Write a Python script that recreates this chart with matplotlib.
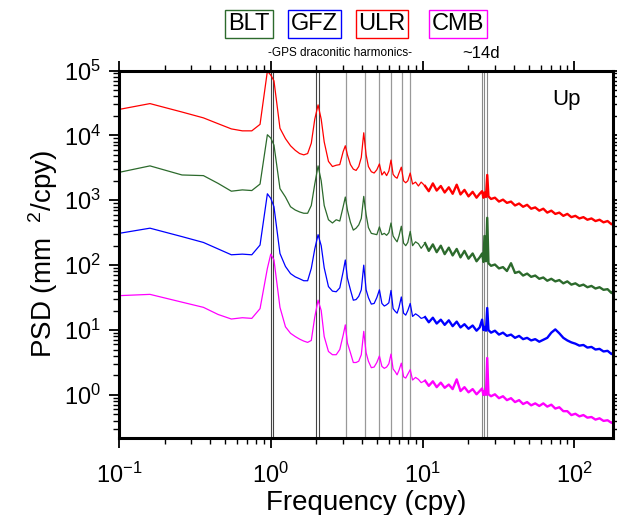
import numpy as np
import matplotlib
matplotlib.use("Agg")
import matplotlib.pyplot as plt

plt.rcParams['font.family'] = ['Liberation Sans', 'DejaVu Sans']
plt.rcParams['mathtext.default'] = 'regular'
plt.rcParams['axes.unicode_minus'] = False

# frequency grid (cpy)
freq = [0.1, 0.16, 0.26, 0.36, 0.45, 0.55, 0.65, 0.75, 0.85, 0.95,
        1.0, 1.05, 1.15, 1.25, 1.35, 1.45, 1.55, 1.65, 1.75, 1.85,
        1.95, 2.05, 2.15, 2.25, 2.4, 2.55, 2.7, 2.85, 3.0, 3.1,
        3.2, 3.35, 3.5, 3.65, 3.8, 3.95, 4.1, 4.25, 4.4, 4.6,
        4.8, 5.0, 5.2, 5.4, 5.6, 5.8, 6.0, 6.2, 6.4, 6.6,
        6.8, 7.0, 7.25, 7.5, 7.75, 8.0, 8.3, 8.6, 9.0, 9.4,
        9.8,
        10.4, 11.0, 11.7, 12.4, 13.2, 14.0, 14.9, 15.8, 16.8, 17.8,
        18.9, 20.1, 21.4, 22.7, 23.8, 24.7, 25.2, 25.6, 26.2, 26.7,
        27.2, 28.3, 30.0, 31.9, 33.9, 36.0, 38.3, 40.7, 43.3, 46.0,
        48.9, 52.0, 55.3, 58.8, 62.5, 66.4, 70.6, 75.0, 79.7, 84.7,
        90.0, 95.7, 101.7, 108.1, 114.9, 122.1, 129.8, 138.0, 146.7, 155.9,
        165.7, 176.0, 180.0]

# log10 of PSD (mm^2/cpy)
ulr_log = [4.40, 4.49, 4.36, 4.27, 4.18, 4.10, 4.07, 4.07, 4.17, 4.99,
           4.93, 4.84, 4.11, 3.95, 3.84, 3.77, 3.72, 3.70, 3.72, 3.88,
           4.25, 4.47, 4.25, 3.90, 3.60, 3.52, 3.54, 3.55, 3.75, 3.84,
           3.70, 3.55, 3.48, 3.46, 3.52, 3.66, 4.04, 3.70, 3.52, 3.44,
           3.42, 3.47, 3.56, 3.39, 3.44, 3.38, 3.45, 3.62, 3.40, 3.36,
           3.34, 3.42, 3.51, 3.30, 3.27, 3.30, 3.42, 3.25, 3.28, 3.22,
           3.28,
           3.22, 3.14, 3.26, 3.15, 3.22, 3.12, 3.20, 3.10, 3.24, 3.09,
           3.16, 3.06, 3.13, 3.04, 3.10, 3.14, 3.04, 3.12, 3.05, 3.39,
           3.06, 3.02, 3.04, 2.98, 3.01, 2.96, 2.98, 2.92, 2.95, 2.90,
           2.93, 2.87, 2.89, 2.84, 2.87, 2.81, 2.84, 2.79, 2.81, 2.76,
           2.79, 2.74, 2.76, 2.72, 2.74, 2.70, 2.72, 2.68, 2.70, 2.66,
           2.68, 2.63, 2.65]

blt_log = [3.43, 3.53, 3.39, 3.38, 3.26, 3.14, 3.16, 3.15, 3.25, 4.01,
           3.96, 3.85, 3.18, 3.05, 2.90, 2.85, 2.82, 2.80, 2.80, 2.92,
           3.25, 3.53, 3.30, 2.92, 2.70, 2.65, 2.70, 2.68, 2.90, 3.05,
           2.85, 2.66, 2.54, 2.57, 2.62, 2.72, 3.06, 2.78, 2.58, 2.49,
           2.48, 2.47, 2.59, 2.47, 2.49, 2.46, 2.50, 2.65, 2.45, 2.40,
           2.36, 2.45, 2.60, 2.34, 2.30, 2.35, 2.52, 2.30, 2.36, 2.33,
           2.26,
           2.34, 2.22, 2.32, 2.20, 2.30, 2.17, 2.27, 2.15, 2.25, 2.12,
           2.22, 2.10, 2.18, 2.06, 2.12, 2.18, 2.05, 2.45, 2.06, 2.73,
           2.03, 1.99, 2.01, 1.95, 1.97, 1.91, 2.03, 1.88, 1.90, 1.84,
           1.87, 1.82, 1.84, 1.79, 1.81, 1.76, 1.79, 1.75, 1.77, 1.72,
           1.75, 1.70, 1.72, 1.68, 1.70, 1.66, 1.68, 1.64, 1.66, 1.62,
           1.63, 1.57, 1.60]

gfz_log = [2.49, 2.57, 2.44, 2.35, 2.25, 2.16, 2.17, 2.16, 2.31, 3.10,
           3.03, 2.90, 2.18, 1.98, 1.87, 1.82, 1.79, 1.76, 1.76, 1.95,
           2.25, 2.47, 2.30, 1.96, 1.67, 1.60, 1.59, 1.65, 1.90, 2.08,
           1.80, 1.62, 1.46, 1.47, 1.52, 1.62, 2.00, 1.62, 1.50, 1.40,
           1.41, 1.50, 1.62, 1.41, 1.37, 1.39, 1.42, 1.61, 1.33, 1.29,
           1.26, 1.35, 1.51, 1.26, 1.23, 1.30, 1.41, 1.21, 1.25, 1.22,
           1.18,
           1.20, 1.12, 1.19, 1.10, 1.16, 1.08, 1.15, 1.06, 1.13, 1.04,
           1.09, 1.02, 1.07, 0.99, 1.04, 1.16, 1.00, 1.05, 0.99, 1.34,
           1.00, 0.96, 0.99, 0.93, 0.96, 0.91, 0.93, 0.88, 0.91, 0.86,
           0.88, 0.84, 0.86, 0.82, 0.85, 0.88, 0.96, 1.01, 0.95, 0.88,
           0.84, 0.81, 0.79, 0.76, 0.77, 0.73, 0.74, 0.70, 0.71, 0.67,
           0.68, 0.63, 0.65]

cmb_log = [1.53, 1.55, 1.43, 1.35, 1.24, 1.17, 1.19, 1.18, 1.33, 1.95,
           2.17, 2.08, 1.35, 1.05, 0.95, 0.90, 0.86, 0.83, 0.81, 0.84,
           1.20, 1.46, 1.30, 0.90, 0.67, 0.62, 0.62, 0.70, 0.92, 1.08,
           0.80, 0.65, 0.50, 0.50, 0.52, 0.62, 0.98, 0.65, 0.52, 0.42,
           0.43, 0.50, 0.60, 0.44, 0.41, 0.43, 0.48, 0.63, 0.40, 0.36,
           0.31, 0.38, 0.49, 0.28, 0.26, 0.32, 0.39, 0.23, 0.27, 0.24,
           0.19,
           0.22, 0.14, 0.21, 0.12, 0.19, 0.11, 0.16, 0.09, 0.24, 0.06,
           0.12, 0.04, 0.09, 0.01, 0.06, 0.10, 0.00, 0.06, 0.00, 0.57,
           0.01, -0.02, 0.01, -0.05, -0.02, -0.08, -0.05, -0.11, -0.08, -0.14,
           -0.11, -0.16, -0.13, -0.17, -0.13, -0.18, -0.15, -0.21, -0.19, -0.25,
           -0.25, -0.31, -0.29, -0.33, -0.31, -0.35, -0.34, -0.38, -0.36, -0.40,
           -0.39, -0.43, -0.41]

seasonal = [1.0, 2.0]
draconitic = [1.04, 2.08, 3.12, 4.16, 5.20, 6.24, 7.28, 8.32]
fortnightly = [24.7, 25.6, 26.7]

names = ['BLT', 'GFZ', 'ULR', 'CMB']
colors = {'BLT': '#2c6a2c', 'GFZ': '#0000ff', 'ULR': '#ff0000', 'CMB': '#ff00ff'}
series = {'ULR': ulr_log, 'BLT': blt_log, 'GFZ': gfz_log, 'CMB': cmb_log}

n_low = 61  # points below 10 cpy; the noisy part above is drawn a bit heavier

fig = plt.figure(figsize=(6.17, 5.15), dpi=100)
ax = fig.add_axes([119 / 617, 1 - 438 / 515, 494 / 617, 367.5 / 515])

# reference lines
for f in seasonal:
    ax.axvline(f, color='#444444', linewidth=0.8, zorder=1)
for f in draconitic[:2]:
    ax.axvline(f, color='#444444', linewidth=0.8, zorder=1)
for f in draconitic[2:]:
    ax.axvline(f, color='#999999', linewidth=0.9, zorder=1)
for f in fortnightly:
    ax.axvline(f, color='#888888', linewidth=0.8, zorder=1)

for name in ['ULR', 'BLT', 'GFZ', 'CMB']:
    psd = 10 ** np.array(series[name])
    ax.plot(freq[:n_low + 1], psd[:n_low + 1], color=colors[name], linewidth=0.9, zorder=2)
    ax.plot(freq[n_low:], psd[n_low:], color=colors[name], linewidth=1.7, zorder=2)

ax.set_xscale('log')
ax.set_yscale('log')
ax.set_xlim(0.1, 180)
ax.set_ylim(0.217, 1e5)

for s in ax.spines.values():
    s.set_linewidth(2.2)
ax.tick_params(which='both', direction='out', top=True, right=True)
ax.tick_params(which='major', length=7, width=1.3, labelsize=17)
ax.tick_params(which='minor', length=4, width=1.0)
ax.tick_params(axis='x', which='major', pad=11)
ax.tick_params(axis='y', which='major', pad=6)

ax.set_xlabel('Frequency (cpy)', fontsize=20, labelpad=1)
ax.set_ylabel('PSD (mm  $^{2}$/cpy)', fontsize=20, labelpad=3)

ax.text(0.905, 0.92, 'Up', transform=ax.transAxes, fontsize=16, ha='center', va='center')

# header labels
box_x = [249, 314.5, 382, 458]
for name, bx in zip(names, box_x):
    fig.text(bx / 617, 1 - 24 / 515, name, fontsize=17, ha='center', va='center',
             bbox=dict(boxstyle='square,pad=0.12', facecolor='white',
                       edgecolor=colors[name], linewidth=1.0))

fig.text(340 / 617, 1 - 53 / 515, '-GPS draconitic harmonics-', fontsize=8.5,
         ha='center', va='center')
fig.text(481 / 617, 1 - 53 / 515, '~14d', fontsize=12, ha='center', va='center')

fig.savefig('out.png', dpi=100)
